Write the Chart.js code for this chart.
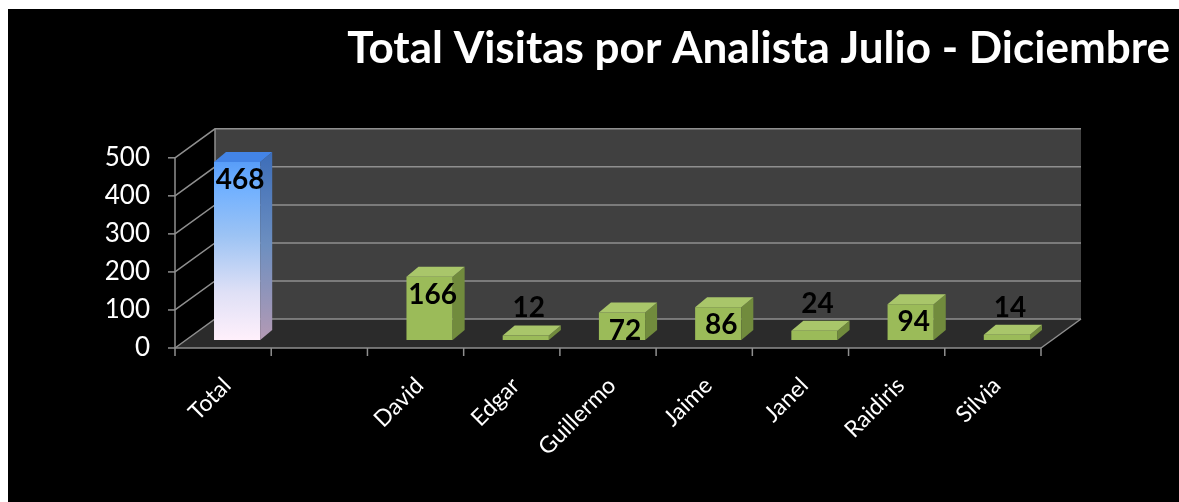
<!DOCTYPE html>
<html>
<head>
<meta charset="utf-8">
<script src="https://cdn.jsdelivr.net/npm/chart.js@4.4.1/dist/chart.umd.min.js"></script>
<style>
  html, body { margin: 0; background: #fff; }
  #wrap { position: absolute; left: 8px; top: 9px; width: 1171px; height: 493px; background: #000; }
</style>
</head>
<body>
<div id="wrap"><canvas id="visitas-chart" width="1171" height="493"></canvas></div>
<script>
const categories = ['Total', '', 'David', 'Edgar', 'Guillermo', 'Jaime', 'Janel', 'Raidiris', 'Silvia'];
const visitas = [468, null, 166, 12, 72, 86, 24, 94, 14];
const yTicks = [0, 100, 200, 300, 400, 500];

const visitasChart = document.getElementById('visitas-chart');

Chart.defaults.font.family = 'Lato';
Chart.defaults.color = '#fff';

// front / back offsets of the fake 3d box, relative to the plane the bars stand on
const FRONT = { x: -14, y: 8 };
const BACK = { x: 26, y: -21 };
const BAR_DEPTH = { x: 12, y: -10 };

function poly(ctx, pts) {
    ctx.beginPath();
    ctx.moveTo(pts[0][0], pts[0][1]);
    for (let i = 1; i < pts.length; i++) ctx.lineTo(pts[i][0], pts[i][1]);
    ctx.closePath();
}

function line(ctx, pts) {
    ctx.beginPath();
    ctx.moveTo(pts[0][0], pts[0][1]);
    for (let i = 1; i < pts.length; i++) ctx.lineTo(pts[i][0], pts[i][1]);
    ctx.stroke();
}

function totalGradient(ctx, area, stops) {
    const g = ctx.createLinearGradient(0, area.bottom, 0, area.top);
    stops.forEach(s => g.addColorStop(s[0], s[1]));
    return g;
}

const depthPlugin = {
    id: 'depth',
    beforeDatasetsDraw(chart) {
        const { ctx, chartArea: a, scales: { x, y } } = chart;
        ctx.save();
        // floor
        ctx.fillStyle = '#2b2b2b';
        poly(ctx, [
            [a.left + FRONT.x, a.bottom + FRONT.y],
            [a.right + FRONT.x, a.bottom + FRONT.y],
            [a.right + BACK.x, a.bottom + BACK.y],
            [a.left + BACK.x, a.bottom + BACK.y]
        ]);
        ctx.fill();
        // back wall
        ctx.fillStyle = '#404040';
        ctx.fillRect(a.left + BACK.x, a.top + BACK.y, a.right - a.left, a.bottom - a.top);

        ctx.strokeStyle = '#8f8f8f';
        ctx.lineWidth = 1.5;
        yTicks.forEach(v => {
            const py = y.getPixelForValue(v);
            line(ctx, [
                [a.left + FRONT.x, py + FRONT.y],
                [a.left + BACK.x, py + BACK.y],
                [a.right + BACK.x, py + BACK.y]
            ]);
            line(ctx, [[a.left + FRONT.x - 7, py + FRONT.y], [a.left + FRONT.x, py + FRONT.y]]);
        });
        line(ctx, [[a.left + BACK.x, a.top + BACK.y], [a.left + BACK.x, a.bottom + BACK.y]]);
        line(ctx, [[a.right + BACK.x, a.bottom + BACK.y], [a.right + FRONT.x, a.bottom + FRONT.y]]);
        // front axes
        line(ctx, [[a.left + FRONT.x, a.top + FRONT.y], [a.left + FRONT.x, a.bottom + FRONT.y]]);
        line(ctx, [[a.left + FRONT.x, a.bottom + FRONT.y], [a.right + FRONT.x, a.bottom + FRONT.y]]);
        const catW = x.getPixelForValue(1) - x.getPixelForValue(0);
        for (let k = 0; k <= categories.length; k++) {
            const px = x.getPixelForValue(0) - catW / 2 + k * catW + FRONT.x;
            line(ctx, [[px, a.bottom + FRONT.y], [px, a.bottom + FRONT.y + 8]]);
        }
        ctx.restore();
    },
    afterDatasetsDraw(chart) {
        const { ctx, chartArea: a } = chart;
        const meta = chart.getDatasetMeta(0);
        ctx.save();
        meta.data.forEach((bar, i) => {
            if (visitas[i] == null) return;
            const { x: cx, y: top, base, width } = bar.getProps(['x', 'y', 'base', 'width'], true);
            const l = cx - width / 2, r = cx + width / 2;
            const dx = BAR_DEPTH.x, dy = BAR_DEPTH.y;
            // side
            ctx.fillStyle = i === 0
                ? totalGradient(ctx, a, [[0, '#b49ab4'], [0.5, '#6d8fc0'], [1, '#3b6cb8']])
                : '#718b3d';
            poly(ctx, [[r, top], [r + dx, top + dy], [r + dx, base + dy], [r, base]]);
            ctx.fill();
            // cap
            ctx.fillStyle = i === 0 ? '#4384e6' : '#a9c66a';
            poly(ctx, [[l, top], [l + dx, top + dy], [r + dx, top + dy], [r, top]]);
            ctx.fill();
        });
        // value labels
        ctx.font = 'bold 28px Lato';
        ctx.fillStyle = '#000';
        ctx.textAlign = 'center';
        ctx.textBaseline = 'middle';
        meta.data.forEach((bar, i) => {
            if (visitas[i] == null) return;
            const ly = visitas[i] >= 50 ? bar.y + 18 : bar.y - 27;
            ctx.fillText(String(visitas[i]), bar.x + 3, ly);
        });
        ctx.restore();
    }
};

const chart = new Chart(visitasChart, {
    type: 'bar',
    data: {
        labels: categories,
        datasets: [{
            data: visitas,
            barPercentage: 0.48,
            categoryPercentage: 1,
            backgroundColor: (c) => {
                if (c.dataIndex !== 0) return '#9bbb59';
                const area = c.chart.chartArea;
                if (!area) return '#6aa8ff';
                return totalGradient(c.chart.ctx, area, [
                    [0, '#fff0fb'], [0.25, '#dfe0f6'], [0.55, '#9cc3f4'], [0.8, '#70b0ff'], [1, '#4d94f5']
                ]);
            }
        }]
    },
    options: {
        responsive: false,
        animation: false,
        layout: { padding: { left: 0, right: 9, top: 0, bottom: 0 } },
        plugins: {
            legend: { display: false },
            tooltip: { enabled: false },
            title: {
                display: true,
                text: 'Total Visitas por Analista Julio - Diciembre',
                align: 'end',
                color: '#fff',
                font: { size: 44, weight: 'bold', family: 'Lato' },
                padding: { top: 13, bottom: 75 }
            }
        },
        scales: {
            x: {
                grid: { display: false, drawTicks: false },
                border: { display: false },
                ticks: {
                    color: '#fff',
                    font: { size: 23 },
                    minRotation: 45,
                    maxRotation: 45,
                    padding: 32,
                    labelOffset: -10,
                    autoSkip: false
                },
                afterFit(s) { s.height = 162; }
            },
            y: {
                min: 0,
                max: 500,
                grid: { display: false, drawTicks: false },
                border: { display: false },
                ticks: {
                    stepSize: 100,
                    color: '#fff',
                    font: { size: 26 },
                    padding: 39,
                    labelOffset: 8
                },
                afterFit(s) { s.width = 181; }
            },
            yR: {
                position: 'right',
                grid: { display: false, drawTicks: false },
                border: { display: false },
                ticks: { display: false },
                afterFit(s) { s.width = 115; }
            }
        }
    },
    plugins: [depthPlugin]
});
</script>
</body>
</html>
